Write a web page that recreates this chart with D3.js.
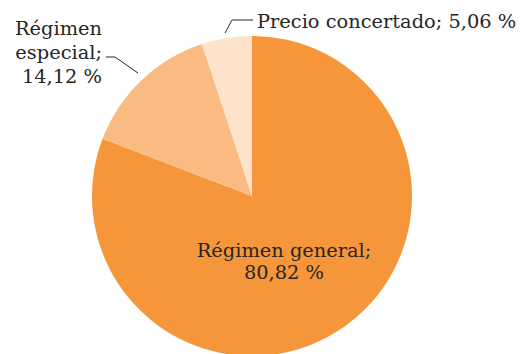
<!DOCTYPE html>
<html>
<head>
<meta charset="utf-8">
<script src="https://cdn.jsdelivr.net/npm/d3@7"></script>
<style>
  html, body { margin: 0; padding: 0; background: #fff; }
  svg { display: block; }
  text { font-family: "DejaVu Serif", serif; fill: #262626; }
</style>
</head>
<body>
<svg id="chart" width="524" height="354"></svg>
<script>
// Regimes and their share of the total (%)
const categories = ["Régimen general", "Régimen especial", "Precio concertado"];
const shares = [80.82, 14.12, 5.06];
const colors = ["#F6963A", "#FABB82", "#FDE3CA"];

const svg = d3.select("#chart");
const cx = 252, cy = 196, radius = 160;

const pie = d3.pie().sort(null).value(d => d.value).startAngle(0).endAngle(2 * Math.PI);
const arc = d3.arc().innerRadius(0).outerRadius(radius);

const data = categories.map((c, i) => ({ name: c, value: shares[i], color: colors[i] }));
const arcs = pie(data);

const g = svg.append("g").attr("transform", `translate(${cx},${cy})`);
g.selectAll("path").data(arcs).enter().append("path")
  .attr("d", arc)
  .attr("fill", d => d.data.color);

const fmt = v => d3.format(".2f")(v).replace(".", ",") + " %";
const fontSize = 19.4;

// Label inside the large slice
const main = svg.append("text")
  .attr("text-anchor", "middle")
  .style("font-size", fontSize + "px");
main.append("tspan").attr("x", 284).attr("y", 257).text(categories[0] + ";");
main.append("tspan").attr("x", 284).attr("y", 279).text(fmt(shares[0]));

// Outside label for the special regime, with its leader line
const sp = svg.append("text")
  .attr("text-anchor", "end")
  .style("font-size", fontSize + "px");
const spWords = categories[1].split(" ");
sp.append("tspan").attr("x", 102).attr("y", 35).text(spWords[0]);
sp.append("tspan").attr("x", 102).attr("y", 59).text(spWords[1] + ";");
sp.append("tspan").attr("x", 102).attr("y", 83).text(fmt(shares[1]));

svg.append("polyline")
  .attr("points", "106,57 115,57 138,73")
  .attr("fill", "none").attr("stroke", "#262626").attr("stroke-width", 1);

// Outside label for the agreed-price regime
svg.append("text")
  .attr("x", 257).attr("y", 28)
  .style("font-size", fontSize + "px")
  .text(categories[2] + "; " + fmt(shares[2]));

svg.append("polyline")
  .attr("points", "253,20 232,20 225,33")
  .attr("fill", "none").attr("stroke", "#262626").attr("stroke-width", 1);
</script>
</body>
</html>
